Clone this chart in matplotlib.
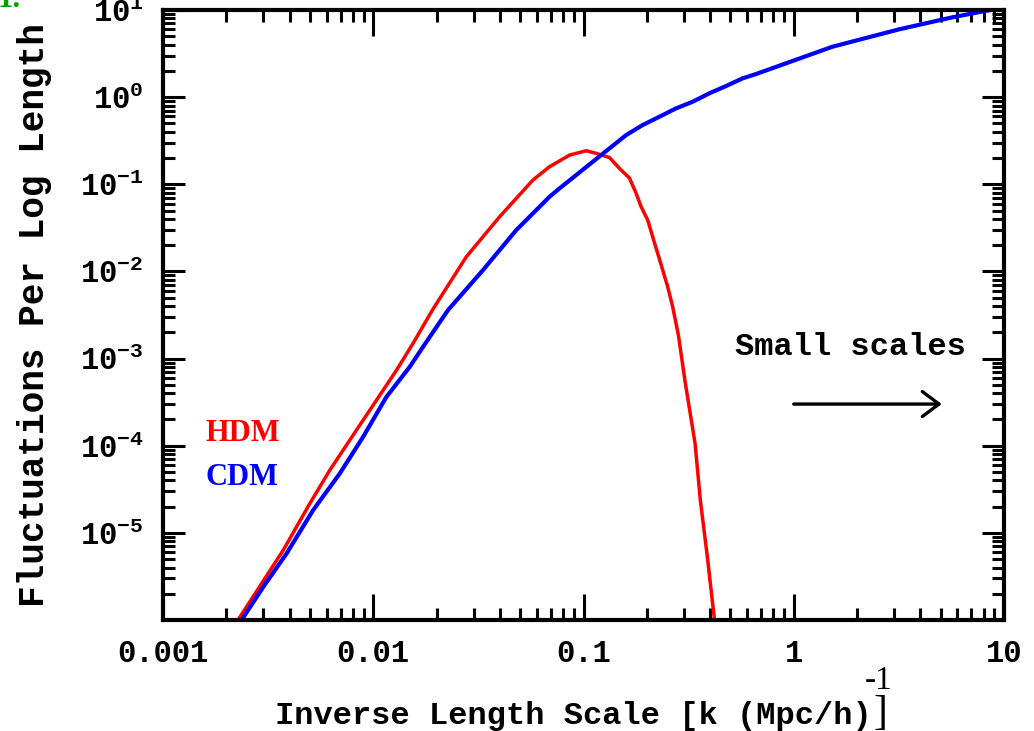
import numpy as np
import matplotlib
matplotlib.use("Agg")
import matplotlib.pyplot as plt
from matplotlib.ticker import FixedLocator, FixedFormatter, LogLocator, NullFormatter

# ---- data ----
hdm_k = [0.002321, 0.002944, 0.003729, 0.004992, 0.006213, 0.008321, 0.01036,
         0.01290, 0.01545, 0.01924, 0.02771, 0.0399, 0.05743, 0.0689, 0.0858,
         0.1030, 0.1149, 0.1329, 0.1483, 0.1654, 0.1780, 0.1880, 0.2021,
         0.2134, 0.2254, 0.2381, 0.2515, 0.2656, 0.2827, 0.3052, 0.3394,
         0.3595, 0.3882, 0.4191]
hdm_d = [1.08e-6, 2.62e-6, 6.31e-6, 2.17e-5, 5.24e-5, 1.51e-4, 3.33e-4,
         7.36e-4, 1.49e-3, 3.7e-3, 0.01472, 0.0424, 0.1117, 0.159, 0.2163,
         0.2427, 0.2263, 0.2026, 0.1522, 0.1178, 0.0786, 0.0552, 0.0388,
         0.0249, 0.0161, 0.01035, 6.65e-3, 3.92e-3, 1.86e-3, 5.17e-4, 1.06e-4,
         2.37e-5, 5.29e-6, 1.04e-6]

cdm_k = [0.002391, 0.002996, 0.003869, 0.005176, 0.006933, 0.008944, 0.01155,
         0.01491, 0.01724, 0.02268, 0.03325, 0.04787, 0.06894, 0.0769, 0.0923,
         0.1107, 0.1329, 0.1595, 0.1912, 0.2296, 0.2757, 0.3305, 0.3967,
         0.4764, 0.5712, 0.6614, 1.528, 3.17, 5.68, 8.96]
cdm_d = [1.04e-6, 2.39e-6, 5.78e-6, 1.82e-5, 4.80e-5, 1.26e-4, 3.63e-4,
         8.03e-4, 1.36e-3, 3.60e-3, 0.01035, 0.02979, 0.0719, 0.0897, 0.1276,
         0.1813, 0.2582, 0.367, 0.4786, 0.5957, 0.7437, 0.8855, 1.106,
         1.341, 1.644, 1.841, 3.79, 6.0, 8.24, 10.2]

x_ticks = [0.001, 0.01, 0.1, 1, 10]
x_tick_labels = ["0.001", "0.01", "0.1", "1", "10"]
y_exps = [-5, -4, -3, -2, -1, 0, 1]

# ---- figure ----
W, H = 1034, 731
plt.rcParams['font.family'] = ['Liberation Mono', 'DejaVu Sans']
plt.rcParams['font.weight'] = 'bold'
plt.rcParams['font.size'] = 22

fig = plt.figure(figsize=(W / 100, H / 100), dpi=100)
ax = fig.add_axes([163 / W, 111 / H, 841 / W, 610 / H])

ax.plot(hdm_k, hdm_d, color='#ff0000', lw=2.5)
ax.plot(cdm_k, cdm_d, color='#0000ff', lw=3.0)

ax.set_xscale('log')
ax.set_yscale('log')
ax.set_xlim(1e-3, 10)
ax.set_ylim(1e-6, 10)

ax.xaxis.set_major_locator(FixedLocator(x_ticks))
ax.xaxis.set_major_formatter(FixedFormatter(x_tick_labels))
y_ticks = [10.0 ** e for e in y_exps]
y_labels = [r'$\mathregular{10^{%d}}$' % e for e in y_exps]
ax.yaxis.set_major_locator(FixedLocator(y_ticks))
ax.yaxis.set_major_formatter(FixedFormatter(y_labels))
ax.xaxis.set_minor_locator(LogLocator(base=10, subs=np.arange(2, 10), numticks=100))
ax.yaxis.set_minor_locator(LogLocator(base=10, subs=np.arange(2, 10), numticks=100))
ax.xaxis.set_minor_formatter(NullFormatter())
ax.yaxis.set_minor_formatter(NullFormatter())

for s in ax.spines.values():
    s.set_linewidth(3)
ax.tick_params(axis='x', which='major', direction='in', length=19, width=2.2,
               top=True, bottom=True, pad=14, labelsize=22)
ax.tick_params(axis='y', which='major', direction='in', length=16, width=2.2,
               left=True, right=True, pad=14, labelsize=22)
ax.tick_params(which='minor', direction='in', length=8.5, width=2.2,
               top=True, bottom=True, left=True, right=True)

# legend-like labels
ax.text(0.050, 0.305, 'HDM', color='#ff0000', transform=ax.transAxes,
        family=['Liberation Serif'], fontweight='bold', fontsize=22,
        ha='left', va='center')
ax.text(0.050, 0.2344, 'CDM', color='#0000ff', transform=ax.transAxes,
        family=['Liberation Serif'], fontweight='bold', fontsize=22,
        ha='left', va='center')

# small-scales annotation
ax.text(0.818, 0.4475, 'Small scales', transform=ax.transAxes,
        fontsize=23, fontweight='bold', ha='center', va='center')
ax.annotate('', xy=(0.926, 0.354), xytext=(0.750, 0.354),
            xycoords='axes fraction', textcoords='axes fraction',
            arrowprops=dict(arrowstyle='->,head_length=0.6,head_width=0.45',
                            lw=2.4, color='black', mutation_scale=20,
                            shrinkA=0, shrinkB=0))

# axis labels
fig.text(35 / W, 1 - 315 / H, 'Fluctuations Per Log Length', rotation=90,
         fontsize=26, fontweight='bold', ha='center', va='center')
fig.text(872 / W, 1 - 724 / H, 'Inverse Length Scale [k (Mpc/h)',
         fontsize=23, fontweight='bold', ha='right', va='baseline')
fig.text(865 / W, 1 - 689 / H, '-1', family=['Liberation Serif'],
         fontweight='normal', fontsize=24, ha='left', va='baseline')
fig.text(874 / W, 1 - 694 / H, ']', family=['Liberation Serif'],
         fontweight='normal', fontsize=30, ha='left', va='top')

# clipped fragment of a heading at the top-left
fig.text(-3 / W, 1 - 7 / H, '1.', color='#00a000', family=['Liberation Serif'],
         fontweight='bold', fontsize=22, ha='left', va='baseline')

fig.savefig('out.png', dpi=100)
